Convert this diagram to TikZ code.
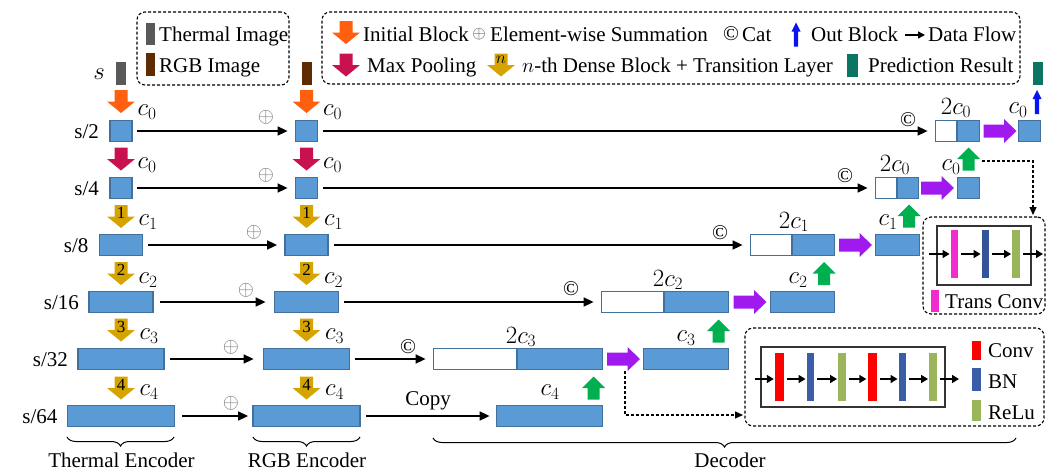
\documentclass[tikz,border=0pt]{standalone}
\usepackage{fontspec}
\setmainfont{Liberation Serif}
\usetikzlibrary{arrows.meta,decorations.pathreplacing}

\definecolor{blkfill}{HTML}{5B9BD5}
\definecolor{blkline}{HTML}{41719C}
\definecolor{initc}{HTML}{FF5F0F}
\definecolor{poolc}{HTML}{C8124F}
\definecolor{densec}{HTML}{D6A400}
\definecolor{upc}{HTML}{A01AF0}
\definecolor{greenc}{HTML}{00B050}
\definecolor{outc}{HTML}{0A14F0}
\definecolor{predc}{HTML}{0C7462}
\definecolor{thermc}{HTML}{595959}
\definecolor{rgbc}{HTML}{5E2C00}
\definecolor{tconvc}{HTML}{F22BCF}
\definecolor{convc}{HTML}{FF0000}
\definecolor{bnc}{HTML}{3A5DA8}
\definecolor{reluc}{HTML}{9BB55A}

\begin{document}
\begin{tikzpicture}[x=1pt,y=-1pt,
  font=\fontsize{21}{24}\selectfont,
  txt/.style={inner sep=0pt},
  lbl/.style={inner sep=0pt, font=\fontsize{24}{27}\selectfont},
  sym/.style={inner sep=0pt, font=\fontsize{21}{24}\selectfont, text=black!55},
  cat/.style={inner sep=0pt, font=\fontsize{21}{24}\selectfont},
  num/.style={inner sep=0pt, font=\fontsize{17}{20}\selectfont},
  blk/.style={draw=blkline, fill=blkfill, line width=1.8pt, inner sep=0pt, minimum height=21pt},
  cwht/.style={blk, fill=white},
  bar/.style={inner sep=0pt, minimum width=7.5pt, minimum height=48pt},
  swatch/.style={inner sep=0pt, minimum width=9pt},
  dbox/.style={draw, dashed, dash pattern=on 3pt off 2pt, line width=1.1pt, rounded corners=8pt, inner sep=0pt},
  flow/.style={line width=1.6pt, -{Triangle[length=10pt,width=9pt]}},
  sarr/.style={line width=1.5pt, -{Triangle[length=7pt,width=8pt]}},
  dflow/.style={line width=1.1pt, dashed, dash pattern=on 3pt off 2pt, -{Triangle[length=8pt,width=7pt]}},
  brc/.style={line width=1pt, decorate, decoration={brace, mirror, amplitude=9pt}},
  darr/.pic={\path[pic actions] (-6.5,-11.5) -- (6.5,-11.5) -- (6.5,0) -- (14,0)
      -- (0,11.5) -- (-14,0) -- (-6.5,0) -- cycle;},
  uarr/.pic={\path[pic actions] (-6,11.5) -- (6,11.5) -- (6,0) -- (11.5,0)
      -- (0,-11.5) -- (-11.5,0) -- (-6,0) -- cycle;},
  rarr/.pic={\path[pic actions] (-16.5,-6.5) -- (4,-6.5) -- (4,-12) -- (16.5,0)
      -- (4,12) -- (4,6.5) -- (-16.5,6.5) -- cycle;},
  barr/.pic={\path[pic actions] (-2.2,12) -- (2.2,12) -- (2.2,-3) -- (4.5,-3)
      -- (0,-12) -- (-4.5,-3) -- (-2.2,-3) -- cycle;}
]
\useasboundingbox (0,0) rectangle (1054,472);

% ---------------- legends ----------------
\node[dbox, minimum width=152pt, minimum height=73pt] (leg1) at (213,48.5) {};
\node[swatch, fill=thermc, minimum height=22pt] (lgT) at (150,34) {};
\node[txt, anchor=base west] (lgTt) at (159,41) {Thermal Image};
\node[swatch, fill=rgbc, minimum height=23pt] (lgR) at (150,64.5) {};
\node[txt, anchor=base west] (lgRt) at (159,72) {RGB Image};

\node[dbox, minimum width=698pt, minimum height=72pt] (leg2) at (671,48) {};
\pic[fill=initc] at (346,32.5) {darr};
\node[txt, anchor=base west] (lgI) at (363,41) {Initial Block};
\node[sym, text=black!75, font=\fontsize{17}{20}\selectfont] (lgS) at (479,34) {$\oplus$};
\node[txt, anchor=base west] (lgSt) at (490,41) {Element-wise Summation};
\node[cat] (lgC) at (731,34) {©};
\node[txt, anchor=base west] (lgCt) at (742,41) {Cat};
\pic[fill=outc] at (796,34.5) {barr};
\node[txt, anchor=base west] (lgO) at (811,41) {Out Block};
\coordinate (lgFa) at (905,35);
\coordinate (lgFb) at (925,35);
\draw[line width=1.4pt, -{Triangle[length=7pt,width=7pt]}] (lgFa) -- (lgFb);
\node[txt, anchor=base west] (lgF) at (928,41) {Data Flow};
\pic[fill=poolc] at (346,65) {darr};
\node[txt, anchor=base west] (lgM) at (367,72) {Max Pooling};
\pic[fill=densec] at (501,65) {darr};
\node[num, font=\fontsize{19}{22}\selectfont] (lgN) at (501,60) {$n$};
\node[txt, anchor=base west] (lgD) at (522,72) {$n$-th Dense Block + Transition Layer};
\node[swatch, fill=predc, minimum width=11pt, minimum height=23pt] (lgP) at (852.5,65) {};
\node[txt, anchor=base west] (lgPt) at (868,72) {Prediction Result};

% ---------------- inputs ----------------
\node[lbl] (sin) at (99,74) {$s$};
\node[swatch, fill=thermc, minimum width=10pt, minimum height=23pt] (inT) at (121,73.5) {};
\node[swatch, fill=rgbc, minimum width=10pt, minimum height=23pt] (inR) at (307,73.5) {};

% ---------------- encoders ----------------
\foreach \cx/\p in {121/t,306.5/r}{
  \node[blk, minimum width=22pt]  (\p1) at (\cx,131) {};
  \node[blk, minimum width=22pt]  (\p2) at (\cx,188) {};
  \node[blk, minimum width=43pt]  (\p3) at (\cx,245) {};
  \node[blk, minimum width=64pt]  (\p4) at (\cx,302) {};
  \node[blk, minimum width=86pt]  (\p5) at (\cx,359) {};
  \node[blk, minimum width=107pt] (\p6) at (\cx,416) {};
  \pic[fill=initc] at (\cx,101.5) {darr};
  \pic[fill=poolc] at (\cx,159) {darr};
  \pic[fill=densec] at (\cx,216.5) {darr};
  \pic[fill=densec] at (\cx,273.5) {darr};
  \pic[fill=densec] at (\cx,330) {darr};
  \pic[fill=densec] at (\cx,388) {darr};
  \node[num] (\p n1) at (\cx,213) {1};
  \node[num] (\p n2) at (\cx,270) {2};
  \node[num] (\p n3) at (\cx,327) {3};
  \node[num] (\p n4) at (\cx,385) {4};
  \node[lbl] (\p c0a) at (\cx+26,112) {$c_0$};
  \node[lbl] (\p c0b) at (\cx+26,165) {$c_0$};
  \node[lbl] (\p c1) at (\cx+27,222) {$c_1$};
  \node[lbl] (\p c2) at (\cx+27,280) {$c_2$};
  \node[lbl] (\p c3) at (\cx+28,336) {$c_3$};
  \node[lbl] (\p c4) at (\cx+28,392) {$c_4$};
}

% scale labels
\node[txt, anchor=base east] (s2)  at ([xshift=-10pt]t1.west) [yshift=-7pt] {s/2};
\node[txt, anchor=base east] (s4)  at ([xshift=-10pt]t2.west) [yshift=-7pt] {s/4};
\node[txt, anchor=base east] (s8)  at ([xshift=-10pt]t3.west) [yshift=-7pt] {s/8};
\node[txt, anchor=base east] (s16) at ([xshift=-9pt]t4.west) [yshift=-7pt] {s/16};
\node[txt, anchor=base east] (s32) at ([xshift=-9pt]t5.west) [yshift=-7pt] {s/32};
\node[txt, anchor=base east] (s64) at ([xshift=-9pt]t6.west) [yshift=-7pt] {s/64};

% thermal -> RGB summation
\draw[flow, shorten <=4pt, shorten >=7pt] (t1) -- (r1);
\draw[flow, shorten <=4pt, shorten >=7pt] (t2) -- (r2);
\draw[flow, shorten <=5pt, shorten >=7pt] (t3) -- (r3);
\draw[flow, shorten <=6pt, shorten >=8pt] (t4) -- (r4);
\draw[flow, shorten <=5pt, shorten >=9pt] (t5) -- (r5);
\draw[flow, shorten <=7pt, shorten >=4pt] (t6) -- (r6);
\node[sym] (su1) at (266,117) {$\oplus$};
\node[sym] (su2) at (266,175) {$\oplus$};
\node[sym] (su3) at (254,232) {$\oplus$};
\node[sym] (su4) at (246,290) {$\oplus$};
\node[sym] (su5) at (231,347) {$\oplus$};
\node[sym] (su6) at (231,403) {$\oplus$};

% ---------------- decoder ----------------
\node[blk, minimum width=22pt] (cb1) at (968.5,131) {};
\node[cwht, minimum width=21pt] (cw1) at (946,131) {};
\node[blk, minimum width=22pt] (o1) at (1029.5,131) {};
\node[blk, minimum width=21pt] (cb2) at (908,188) {};
\node[cwht, minimum width=21pt] (cw2) at (886,188) {};
\node[blk, minimum width=22pt] (o2) at (968.5,188) {};
\node[blk, minimum width=42pt] (cb3) at (813.5,245) {};
\node[cwht, minimum width=41pt] (cw3) at (771,245) {};
\node[blk, minimum width=44pt] (o3) at (897.5,245) {};
\node[blk, minimum width=64pt] (cb4) at (696.5,302) {};
\node[cwht, minimum width=62pt] (cw4) at (632.5,302) {};
\node[blk, minimum width=64pt] (o4) at (802.5,302) {};
\node[blk, minimum width=85pt] (cb5) at (560,359) {};
\node[cwht, minimum width=83pt] (cw5) at (475,359) {};
\node[blk, minimum width=85pt] (o5) at (686,359) {};
\node[blk, minimum width=106pt] (o6) at (549.5,416) {};

% skip connections into the decoder
\draw[flow, shorten <=5pt, shorten >=7pt] (r1) -- (cw1);
\draw[flow, shorten <=5pt, shorten >=7pt] (r2) -- (cw2);
\draw[flow, shorten <=5pt, shorten >=7pt] (r3) -- (cw3);
\draw[flow, shorten <=5pt, shorten >=7pt] (r4) -- (cw4);
\draw[flow, shorten <=5pt, shorten >=7pt] (r5) -- (cw5);
\draw[flow, shorten <=5pt, shorten >=6pt] (r6) -- (o6);
\node[cat] (ct1) at (908,120) {©};
\node[cat] (ct2) at (845,176) {©};
\node[cat] (ct3) at (720,233) {©};
\node[cat] (ct4) at (571,289) {©};
\node[cat] (ct5) at (408,347) {©};
\node[txt] (copy) at (428,401) {Copy};

% transition arrows
\pic[fill=upc] at (1000,131) {rarr};
\pic[fill=upc] at (937.5,188) {rarr};
\pic[fill=upc] at (855.5,245) {rarr};
\pic[fill=upc] at (750,302) {rarr};
\pic[fill=upc] at (623.5,359) {rarr};
\pic[fill=greenc] at (968.5,159) {uarr};
\pic[fill=greenc] at (909,216) {uarr};
\pic[fill=greenc] at (824,273.5) {uarr};
\pic[fill=greenc] at (718.5,331) {uarr};
\pic[fill=greenc] at (593.5,388) {uarr};
\pic[fill=outc] at (1037,102) {barr};
\node[swatch, fill=predc, minimum width=10pt, minimum height=23pt] (pred) at (1038,73.5) {};

% decoder labels
\node[lbl] (d2c0) at (956,108) {$2c_0$};
\node[lbl] (dc0a) at (1018,110) {$c_0$};
\node[lbl] (d2c0b) at (895,165) {$2c_0$};
\node[lbl] (dc0b) at (951,167) {$c_0$};
\node[lbl] (d2c1) at (794,222) {$2c_1$};
\node[lbl] (dc1) at (888,222) {$c_1$};
\node[lbl] (d2c2) at (668,280) {$2c_2$};
\node[lbl] (dc2) at (798,280) {$c_2$};
\node[lbl] (d2c3) at (521,337) {$2c_3$};
\node[lbl] (dc3) at (686,338) {$c_3$};
\node[lbl] (dc4) at (550,392) {$c_4$};

% ---------------- trans conv detail ----------------
\node[dbox, minimum width=122pt, minimum height=97pt] (tbox) at (984,265.5) {};
\draw[line width=1.2pt, black!80] (937,226) rectangle (1031,285);
\node[bar, fill=tconvc] (tc1) at (954.5,254) {};
\node[bar, fill=bnc!90!black] (tc2) at (985.5,254) {};
\node[bar, fill=reluc] (tc3) at (1016,254) {};
\coordinate (tin) at (929,254);
\coordinate (tout) at (1043,254);
\draw[sarr, shorten >=1pt] (tin) -- (tc1.west);
\draw[sarr, shorten <=3pt, shorten >=1pt] (tc1.east) -- (tc2.west);
\draw[sarr, shorten <=3pt, shorten >=1pt] (tc2.east) -- (tc3.west);
\draw[sarr, shorten <=3pt] (tc3.east) -- (tout);
\node[swatch, fill=tconvc, minimum width=8pt, minimum height=22pt] (tcl) at (935,301) {};
\node[txt, anchor=base west] (tclt) at (945,308) {Trans Conv};

\coordinate (g2out) at (982,161);
\coordinate (tdrop) at (1033,215);
\draw[dflow] (g2out) -| (tdrop);

% ---------------- conv block detail ----------------
\node[dbox, minimum width=299pt, minimum height=98pt] (cbox) at (894.5,377) {};
\draw[line width=1.2pt, black!80] (761,347) rectangle (945,407);
\node[bar, fill=convc, minimum width=9pt] (cv1) at (779.5,377) {};
\node[bar, fill=bnc] (cv2) at (810.5,377) {};
\node[bar, fill=reluc] (cv3) at (842,377) {};
\node[bar, fill=convc, minimum width=9pt] (cv4) at (872,377) {};
\node[bar, fill=bnc] (cv5) at (902.5,377) {};
\node[bar, fill=reluc] (cv6) at (933,377) {};
\coordinate (cin) at (755,379);
\coordinate (cout) at (959,379);
\draw[sarr, shorten >=1pt] (cin) -- (cv1.west |- cin);
\draw[sarr, shorten <=3pt, shorten >=1pt] (cv1.east |- cin) -- (cv2.west |- cin);
\draw[sarr, shorten <=3pt, shorten >=1pt] (cv2.east |- cin) -- (cv3.west |- cin);
\draw[sarr, shorten <=3pt, shorten >=1pt] (cv3.east |- cin) -- (cv4.west |- cin);
\draw[sarr, shorten <=3pt, shorten >=1pt] (cv4.east |- cin) -- (cv5.west |- cin);
\draw[sarr, shorten <=3pt, shorten >=1pt] (cv5.east |- cin) -- (cv6.west |- cin);
\draw[sarr, shorten <=3pt] (cv6.east |- cin) -- (cout);
\node[swatch, fill=convc, minimum height=19pt] (lcv) at (976.5,350) {};
\node[swatch, fill=bnc, minimum height=23pt] (lbn) at (976.5,379.5) {};
\node[swatch, fill=reluc, minimum height=21pt] (lrl) at (976.5,410.5) {};
\node[txt, anchor=base west] (lcvt) at (988,357) {Conv};
\node[txt, anchor=base west] (lbnt) at (988,388) {BN};
\node[txt, anchor=base west] (lrlt) at (988,419) {ReLu};

\coordinate (p5out) at (625,371);
\coordinate (cboxin) at (743,415);
\draw[dflow] (p5out) |- (cboxin);

% ---------------- braces ----------------
\draw[brc] (67,437) -- (174,437);
\draw[brc] (253,437) -- (360,437);
\draw[brc] (433,438) -- (1016,438);
\node[txt, anchor=base] (encT) at (121.5,467) {Thermal Encoder};
\node[txt, anchor=base] (encR) at (307,467) {RGB Encoder};
\node[txt, anchor=base] (dec) at (730,467) {Decoder};
\end{tikzpicture}
\end{document}
